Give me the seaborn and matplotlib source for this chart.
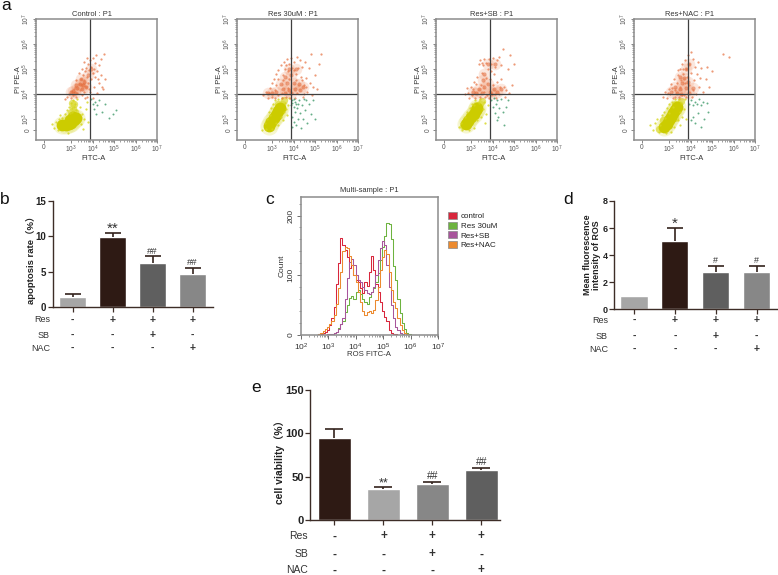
import numpy as np
import pandas as pd
import matplotlib
matplotlib.use("Agg")
import matplotlib.pyplot as plt
from matplotlib.patches import Patch
import seaborn as sns

W, H = 778, 575
sns.set_theme(style="white")
plt.rcParams["font.family"] = ["Liberation Sans", "Noto Sans CJK SC", "DejaVu Sans"]
plt.rcParams["mathtext.default"] = "regular"

# ---------- panel a : flow cytometry, (log FITC, log PE)
sample_titles = ["Control : P1", "Res 30uM : P1", "Res+SB : P1", "Res+NAC : P1"]
ul_pct = ["5.12", "7.58", "6.51", "6.84"]
ur_pct = ["0.84", "5.79", "3.91", "2.25"]
ll_pct = ["93.42", "82.69", "87.91", "89.38"]
lr_pct = ["0.62", "3.94", "1.66", "1.52"]

orange_core_control = [(3.3,4.25),(3.1,4.12),(3.4,4.42),(3.5,4.2),(3.2,4.05),(3.6,4.5),(3.0,4.08),(3.45,4.6),(3.7,4.3),(3.25,4.35),(3.55,4.35),(3.8,4.75),(3.95,5.0)]
orange_core_res = [(3.2,4.1),(3.5,4.2),(3.8,4.15),(4.05,4.2),(4.3,4.15),(3.4,4.4),(3.7,4.45),(4.0,4.45),(3.0,4.05),(4.25,4.4),(3.6,4.05),(3.9,4.05),(3.6,4.7),(3.9,4.75),(4.1,5.0),(3.8,5.0),(4.45,4.3),(2.8,4.05)]
orange_core_sb = [(3.1,4.1),(3.35,4.2),(3.6,4.3),(3.9,4.1),(4.05,4.2),(3.5,4.05),(3.8,4.4),(4.2,4.1),(3.25,4.05),(3.55,4.55),(3.95,4.0),(4.4,4.2),(3.8,5.2),(4.1,5.2),(3.6,4.8)]
orange_core_nac = [(3.1,4.1),(3.3,4.3),(3.5,4.2),(3.6,4.45),(3.8,4.25),(3.35,4.05),(3.7,4.65),(3.9,4.5),(3.55,4.0),(3.95,4.05),(4.1,4.25),(3.8,5.0),(3.95,5.2),(3.5,4.7)]

orange_control = [(2.8,3.9),(2.9,4.0),(3.0,3.85),(3.05,4.1),(3.1,3.95),(3.15,4.2),(3.2,4.3),(3.25,3.9),(3.3,4.05),(3.35,4.4),(3.4,4.15),(3.45,4.6),(3.5,3.95),(3.5,4.35),(3.55,4.75),(3.6,4.1),(3.6,4.55),(3.65,4.9),(3.7,4.3),(3.7,5.05),(3.75,3.9),(3.75,4.7),(3.8,4.45),(3.8,5.2),(3.85,4.95),(3.9,4.1),(3.9,5.35),(3.95,4.6),(3.95,5.1),(4.0,3.85),(4.0,4.85),(4.0,5.45),(4.05,4.3),(4.1,4.7),(4.1,5.25),(4.15,5.55),(4.2,4.05),(4.2,4.9),(4.3,4.45),(4.3,5.15),(4.4,4.75),(4.4,5.4),(4.5,4.2),(4.55,5.6),(4.6,4.6),(2.7,3.8),(3.6,5.3),(3.5,5.0),(3.35,4.85),(3.85,4.2),(3.25,4.55),(3.75,5.45),(4.25,4.6),(4.45,4.3),(4.05,5.0),(3.65,3.85)]
orange_res = [(2.6,3.95),(2.7,4.1),(2.8,3.85),(2.9,4.25),(3.0,3.9),(3.0,4.45),(3.1,4.6),(3.15,3.85),(3.2,4.8),(3.3,4.95),(3.3,3.95),(3.4,5.15),(3.45,3.85),(3.5,4.75),(3.55,5.3),(3.6,5.0),(3.65,3.9),(3.7,5.4),(3.75,4.9),(3.8,5.2),(3.85,3.85),(3.9,5.45),(3.95,5.05),(4.0,5.3),(4.05,3.85),(4.1,4.8),(4.15,5.5),(4.2,5.05),(4.3,5.35),(4.35,4.7),(4.4,5.1),(4.45,3.9),(4.5,4.35),(4.55,5.3),(4.6,4.65),(4.65,4.1),(4.7,5.05),(4.75,4.45),(4.8,5.6),(4.85,3.95),(4.9,4.3),(5.0,4.75),(5.1,4.2),(5.3,5.6),(5.2,5.2),(3.2,4.35),(3.5,4.55),(3.8,4.6),(4.1,4.55),(4.4,4.55),(4.6,4.3),(2.85,4.05),(3.3,4.6),(4.0,4.95),(3.65,5.15),(3.15,4.15),(3.45,4.05),(3.75,4.25),(4.15,4.05),(4.5,4.0)]
orange_sb = [(2.7,4.0),(2.8,4.25),(2.9,3.85),(3.0,4.3),(3.05,3.95),(3.15,4.5),(3.2,3.85),(3.3,4.7),(3.35,5.2),(3.4,5.35),(3.4,3.9),(3.5,4.85),(3.55,5.15),(3.6,5.4),(3.65,3.9),(3.7,4.65),(3.7,5.25),(3.8,5.0),(3.85,5.4),(3.85,3.85),(3.9,4.6),(3.95,5.2),(4.0,5.45),(4.05,4.8),(4.1,5.1),(4.15,3.85),(4.2,4.5),(4.2,5.35),(4.3,5.5),(4.3,4.0),(4.4,4.6),(4.4,5.15),(4.5,5.8),(4.55,4.3),(4.6,3.9),(4.65,4.15),(4.7,5.0),(4.8,5.55),(4.9,4.35),(5.0,5.2),(3.1,4.2),(3.25,4.4),(3.45,4.35),(3.6,4.1),(3.75,3.95),(4.0,4.35),(4.1,4.0),(4.35,4.3),(3.5,5.25),(3.95,4.9),(2.85,4.05),(4.75,4.05)]
orange_nac = [(2.7,3.9),(2.8,4.1),(2.9,3.85),(3.0,4.2),(3.05,4.0),(3.1,4.4),(3.2,3.85),(3.25,4.6),(3.3,4.15),(3.4,4.75),(3.45,3.9),(3.5,5.0),(3.55,4.55),(3.6,5.2),(3.65,4.8),(3.7,3.95),(3.75,5.35),(3.8,5.0),(3.85,4.7),(3.9,5.55),(3.95,5.2),(4.0,5.7),(4.0,4.85),(4.05,3.9),(4.1,5.4),(4.15,4.55),(4.2,5.1),(4.25,4.0),(4.3,4.8),(4.35,5.3),(4.4,4.3),(4.45,4.65),(4.5,5.05),(4.6,4.1),(4.7,4.6),(4.75,5.1),(4.85,4.3),(5.0,4.9),(5.5,5.6),(5.8,5.5),(3.15,4.25),(3.35,4.45),(3.5,4.3),(3.75,4.45),(3.95,4.35),(4.1,4.15),(3.6,3.95),(3.8,3.88),(3.4,4.95),(3.65,5.0),(3.3,3.9),(2.95,4.05)]

yellow_core_control = [(2.6,2.78),(2.75,2.76),(2.9,2.8),(3.02,2.86),(3.13,2.95),(3.22,3.06),(2.95,2.98),(3.08,3.1)]
yellow_core_res = [(2.85,2.72),(2.97,2.88),(3.08,3.03),(3.18,3.18),(3.28,3.33),(3.36,3.45)]
yellow_core_sb = [(2.75,2.8),(2.88,2.93),(3.0,3.08),(3.12,3.22),(3.23,3.36),(3.3,3.46)]
yellow_core_nac = [(2.75,2.68),(2.9,2.8),(3.0,2.95),(3.1,3.1),(3.2,3.25),(3.3,3.38),(3.38,3.48)]

yellow_stem_control = [(3.0,3.3),(3.08,3.45),(3.14,3.6),(3.2,3.3),(3.05,3.65)]
yellow_stem_res = [(3.45,3.6),(3.55,3.75),(3.3,3.6),(2.8,2.9)]
yellow_stem_sb = [(3.4,3.6),(3.5,3.72),(3.25,3.55),(2.62,2.72)]
yellow_stem_nac = [(3.45,3.6),(3.55,3.72),(3.3,3.6),(2.55,2.62),(2.7,2.95),(3.3,3.05)]

yellow_control = [(2.1,2.8),(2.2,2.65),(2.3,2.9),(2.4,2.55),(2.45,3.0),(2.6,3.05),(2.7,3.2),(2.8,3.35),(2.85,2.45),(2.9,3.5),(3.0,3.65),(3.05,3.45),(3.1,3.75),(3.2,3.6),(3.25,3.35),(3.3,3.8),(3.4,3.5),(3.45,2.8),(3.5,3.2),(3.55,2.6),(3.6,3.0),(3.7,3.4),(3.8,2.9),(3.75,3.7),(3.15,3.5),(3.05,3.3),(2.95,3.25),(2.5,3.15)]
yellow_res = [(2.55,2.55),(2.65,2.85),(2.7,2.6),(2.75,3.0),(2.85,3.3),(2.95,3.45),(3.0,2.6),(3.05,3.6),(3.15,3.75),(3.2,2.85),(3.3,3.8),(3.4,3.1),(3.45,3.85),(3.5,2.95),(3.55,3.3),(3.6,3.65),(3.7,3.15),(3.75,3.55),(3.8,3.85),(2.9,3.15),(3.3,2.75),(3.65,3.4)]
yellow_sb = [(2.45,2.7),(2.55,2.85),(2.6,2.55),(2.7,3.1),(2.8,3.3),(2.9,2.55),(2.95,3.45),(3.05,3.6),(3.15,2.65),(3.2,3.75),(3.3,2.95),(3.4,3.8),(3.45,3.1),(3.55,3.4),(3.6,3.7),(3.65,2.85),(3.7,3.2),(3.8,3.55),(3.15,3.55),(3.35,3.65)]
yellow_nac = [(2.1,2.75),(2.25,2.55),(2.35,2.85),(2.45,3.0),(2.55,2.5),(2.65,3.15),(2.75,3.3),(2.85,2.45),(2.9,3.45),(3.0,3.6),(3.1,2.5),(3.15,3.7),(3.25,2.7),(3.3,3.8),(3.4,2.95),(3.45,3.8),(3.5,2.75),(3.55,3.65),(3.6,3.1),(3.7,3.4),(3.75,3.8),(3.8,3.0),(2.6,2.75),(2.8,3.05),(3.0,3.25),(3.2,3.5),(3.5,3.3)]

green_control = [(3.95,3.8),(4.0,3.6),(4.05,3.4),(4.1,3.7),(4.15,3.2),(4.2,3.55),(4.3,3.75),(4.45,3.3),(4.6,3.6),(4.75,3.05),(4.95,3.2),(5.1,3.35)]
green_res = [(3.9,3.55),(3.95,3.65),(4.0,3.5),(4.05,3.7),(4.0,3.8),(4.1,3.6),(3.92,3.75),(3.95,3.1),(4.0,2.9),(4.05,3.3),(4.1,2.75),(4.15,3.45),(4.2,3.0),(4.25,3.75),(4.3,3.25),(4.35,2.65),(4.4,3.55),(4.45,3.0),(4.5,3.8),(4.55,3.35),(4.65,2.85),(4.7,3.6),(4.8,3.2),(4.9,3.75),(5.0,3.0),(4.2,3.6),(4.6,3.75),(3.95,2.7)]
green_sb = [(3.95,3.75),(4.0,3.5),(4.05,3.85),(4.1,3.25),(4.15,3.6),(4.2,3.75),(4.25,3.1),(4.3,3.45),(4.4,3.8),(4.5,3.3),(4.65,3.5),(4.7,3.75),(4.55,2.75),(4.2,2.95)]
green_nac = [(3.95,3.6),(4.0,3.75),(4.1,3.55),(4.2,3.7),(4.3,3.6),(4.4,3.8),(4.5,3.55),(4.6,3.7),(4.75,3.65),(4.1,3.1),(4.2,2.85),(4.35,3.25),(4.5,2.7),(4.65,3.0),(4.8,3.3),(4.0,2.95)]

orange_core = [orange_core_control, orange_core_res, orange_core_sb, orange_core_nac]
orange_pts = [orange_control, orange_res, orange_sb, orange_nac]
yellow_core = [yellow_core_control, yellow_core_res, yellow_core_sb, yellow_core_nac]
yellow_stem = [yellow_stem_control, yellow_stem_res, yellow_stem_sb, yellow_stem_nac]
yellow_pts = [yellow_control, yellow_res, yellow_sb, yellow_nac]
green_pts = [green_control, green_res, green_sb, green_nac]

# ---------- bars
conditions = ["Ctrl", "Res", "Res+SB", "Res+NAC"]
apoptosis = [1.45, 9.9, 6.25, 4.7]
apoptosis_err = [0.45, 0.6, 0.95, 0.9]
apoptosis_marks = ["", "**", "##", "##"]
ros = [1.0, 5.05, 2.75, 2.72]
ros_err = [0.0, 0.95, 0.45, 0.48]
ros_marks = ["", "*", "#", "#"]
viability = [95, 36, 42, 57.5]
viability_err = [10, 2.7, 2, 2.5]
viability_marks = ["", "**", "##", "##"]
res_row = ["-", "+", "+", "+"]
sb_row = ["-", "-", "+", "-"]
nac_row = ["-", "-", "-", "+"]

# ---------- panel c histogram
ros_channel = [2.6,2.68,2.76,2.84,2.92,3.0,3.08,3.16,3.24,3.32,3.4,3.48,3.56,3.64,3.72,3.8,3.88,3.96,4.04,4.12,4.2,4.28,4.36,4.44,4.52,4.6,4.68,4.76,4.84,4.92,5.0,5.08,5.16,5.24,5.32,5.4,5.48,5.56,5.64,5.72,5.8,5.88,5.96,6.04,6.12,6.2]
count_control = [0,1,2,3,5,9,16,28,47,85,120,162,150,142,130,112,118,100,92,88,78,70,88,82,105,132,108,85,72,55,40,30,24,8,3,2,1,0,0,0,0,0,0,0,0,0]
count_res = [0,0,0,0,0,0,1,2,3,5,12,18,24,38,50,62,66,60,72,76,68,60,56,52,64,72,78,88,104,125,148,165,188,185,160,115,92,60,36,20,10,4,1,0,0,0]
count_sb = [0,0,0,0,0,1,1,2,3,5,10,18,28,60,95,123,128,118,100,92,88,80,76,70,68,72,80,100,125,145,158,150,118,80,50,28,14,8,3,1,0,0,0,0,0,0]
count_nac = [0,1,3,6,10,14,18,24,34,52,78,105,140,148,145,132,118,100,88,72,55,40,34,38,40,36,42,58,80,108,130,142,135,105,75,55,46,28,16,8,3,1,0,0,0,0]
hist_labels = ["control", "Res 30uM", "Res+SB", "Res+NAC"]
hist_counts = [count_control, count_res, count_sb, count_nac]
hist_colors = ["#d8263c", "#6db33f", "#a8559b", "#ec8a2e"]

fig = plt.figure(figsize=(W / 100, H / 100), dpi=100)
bg = fig.add_axes([0, 0, 1, 1])
bg.set_xlim(0, W); bg.set_ylim(H, 0); bg.axis("off")


def px_axes(l, t, r, b):
    return fig.add_axes([l / W, 1 - b / H, (r - l) / W, (b - t) / H])


def px_text(x, y, s, **kw):
    kw.setdefault("ha", "center"); kw.setdefault("va", "center")
    bg.text(x, y, s, **kw)


GRAY = "#8c8c8c"
DK = "#3f3f3f"
TXT = "#555555"


def log_minor(first, last):
    return [k + np.log10(m) for k in range(first, last) for m in range(2, 10)]


def scatter_layer(ax, pts, color, size, alpha):
    d = pd.DataFrame(pts, columns=["fitc", "pe"])
    sns.scatterplot(data=d, x="fitc", y="pe", color=color, s=size, alpha=alpha, linewidth=0, ax=ax, legend=False)


lefts = [36, 237, 436, 634]
for i, L in enumerate(lefts):
    ax = px_axes(L, 19, L + 121, 140)
    scatter_layer(ax, yellow_core[i], "#e6e67a", 170, 0.35)
    scatter_layer(ax, yellow_stem[i], "#dcdc3c", 28, 0.75)
    scatter_layer(ax, yellow_core[i], "#cccc00", 72, 1)
    scatter_layer(ax, yellow_pts[i], "#d6d61c", 2.6, 0.8)
    scatter_layer(ax, orange_core[i], "#ee8a5c", 70, 0.2)
    scatter_layer(ax, orange_core[i], "#df5a25", 9, 0.5)
    scatter_layer(ax, orange_pts[i], "#e8784a", 2.6, 0.75)
    scatter_layer(ax, green_pts[i], "#3f9a6a", 2, 0.8)
    ax.set_xlim(1.37, 7); ax.set_ylim(2.16, 7)
    ax.axvline(3.9, color=DK, lw=0.9); ax.axhline(4, color=DK, lw=0.9)
    ax.set_xticks([1.74, 3, 4, 5, 6, 7], ["0", "$10^3$", "$10^4$", "$10^5$", "$10^6$", "$10^7$"], fontsize=4.8, color=TXT)
    ax.set_yticks([2.56, 3, 4, 5, 6, 7], ["0", "$10^3$", "$10^4$", "$10^5$", "$10^6$", "$10^7$"], fontsize=4.8, color=TXT, rotation=90, va="center")
    ax.set_xticks(log_minor(3, 7), minor=True); ax.set_yticks(log_minor(3, 7), minor=True)
    ax.tick_params(which="major", length=2, width=0.5, color=TXT, pad=0.8, left=True, bottom=True)
    ax.tick_params(which="minor", length=1.1, width=0.4, color=TXT, left=True, bottom=True)
    ax.set_xlabel(""); ax.set_ylabel("")
    for sp in ax.spines.values():
        sp.set_color(GRAY); sp.set_linewidth(1.1)
    px_text(L + 56, 14, sample_titles[i], fontsize=5.4, color="#333333")
    px_text(L + 58, 158, "FITC-A", fontsize=5.4, color="#333333")
    px_text(L - 17, 80, "PI PE-A", fontsize=5.4, color="#333333", rotation=90)
    px_text(L + 2, 25, f"Q1-UL({ul_pct[i]}%)", fontsize=5.3, color="#a2559f", ha="left")
    px_text(L + 119, 25, f"Q1-UR({ur_pct[i]}%)", fontsize=5.3, color="#4a64a8", ha="right")
    px_text(L + 2, 134, f"Q1-LL({ll_pct[i]}%)", fontsize=5.3, color="#bcbc1e", ha="left")
    px_text(L + 119, 134, f"Q1-LR({lr_pct[i]}%)", fontsize=5.3, color="#2f8a55", ha="right")


def bar_panel(box, values, errs, marks, colors, ymax, yticks, xlim, ylabel, ylab_xy, row_offsets, row_x,
              tick_fs, row_fs, cap, lab_fs, star_fs):
    l, t, r, b = box
    ax = px_axes(l, t, r, b)
    sns.barplot(x=conditions, y=values, hue=conditions, palette=colors, saturation=1, width=0.667,
                legend=False, errorbar=None, ax=ax)
    keep = [j for j in range(4) if errs[j] > 0]
    _, caps, _ = ax.errorbar(keep, [values[j] for j in keep], yerr=[[0] * len(keep), [errs[j] for j in keep]],
                             fmt="none", ecolor="#33231d", elinewidth=1.2, capsize=cap, capthick=1.2, zorder=3)
    caps[0].set_visible(False)
    ax.set_xlim(*xlim); ax.set_ylim(0, ymax)
    ax.set_yticks(yticks, [str(v) for v in yticks], fontsize=tick_fs, fontweight="bold", color="#222222")
    ax.set_xticks(range(4), [""] * 4)
    ax.tick_params(axis="both", length=3.5, width=0.9, color="#3d2d27", pad=1, left=True, bottom=True)
    ax.set_xlabel(""); ax.set_ylabel("")
    for s in ["top", "right"]:
        ax.spines[s].set_visible(False)
    for s in ["left", "bottom"]:
        ax.spines[s].set_color("#3d2d27"); ax.spines[s].set_linewidth(1)
    px_text(*ylab_xy, ylabel, fontsize=lab_fs, fontweight="bold", rotation=90, color="#222222", linespacing=1.1)
    for j, (v, e, m) in enumerate(zip(values, errs, marks)):
        if "*" in m:
            ax.annotate(m, xy=(j, v + e), xytext=(0, 0.2), textcoords="offset points",
                        ha="center", va="baseline", fontsize=star_fs, color="#333333")
        elif m:
            ax.annotate(m, xy=(j, v + e), xytext=(0, 0.5), textcoords="offset points",
                        ha="center", va="bottom", fontsize=lab_fs, color="#333333")
    rows = [("Res", res_row), ("SB", sb_row), ("NAC", nac_row)]
    for (name, row), off in zip(rows, row_offsets):
        px_text(row_x, b + off, name, fontsize=row_fs, ha="right",
                family=["Liberation Sans Narrow", "Liberation Sans"], color="#333333")
        for j, sym in enumerate(row):
            ax.annotate(sym, xy=(j, 0), xycoords=ax.get_xaxis_transform(), xytext=(0, -off * 0.72),
                        textcoords="offset points", ha="center", va="center", fontsize=row_fs + 1,
                        fontweight="bold", color="#333333")
    return ax


bar_panel((52.7, 201, 213, 307.3), apoptosis, apoptosis_err, apoptosis_marks,
          ["#a6a6a6", "#2e1a14", "#5f5f5f", "#878787"], 15, [0, 5, 10, 15], (-0.5, 3.51),
          "apoptosis rate（%）", (31, 258), (12.5, 28, 41), 50, 7, 6.5, 6, 6.8, 11)
bar_panel((614, 201, 777, 309.3), ros, ros_err, ros_marks,
          ["#a6a6a6", "#2e1a14", "#5f5f5f", "#878787"], 8, [0, 2, 4, 6, 8], (-0.49, 3.5),
          "Mean fluorescence\nintensity of ROS", (592, 255), (11, 27, 40), 608, 6.5, 6.5, 5.5, 6.4, 11)
bar_panel((310, 390, 500, 520.3), viability, viability_err, viability_marks,
          ["#2e1a14", "#a6a6a6", "#878787", "#5f5f5f"], 150, [0, 50, 100, 150], (-0.5, 3.38),
          "cell viability（%）", (280, 460), (16, 34, 50), 308, 8, 7.5, 6.5, 7.4, 9)

# ---------- panel c
axc = px_axes(300.7, 197, 438, 335)
for lab, cnt, col in zip(hist_labels, hist_counts, hist_colors):
    d = pd.DataFrame({"channel": ros_channel, "count": cnt})
    sns.lineplot(data=d, x="channel", y="count", color=col, lw=0.75, drawstyle="steps-mid", ax=axc, errorbar=None)
axc.set_xlim(2, 7); axc.set_ylim(0, 231)
axc.set_xticks([2, 3, 4, 5, 6, 7], ["$10^2$", "$10^3$", "$10^4$", "$10^5$", "$10^6$", "$10^7$"], fontsize=6, color="#333333")
axc.set_yticks([0, 100, 200], ["0", "100", "200"], fontsize=6, rotation=90, va="center", color="#333333")
axc.set_yticks(range(0, 230, 20), minor=True)
axc.set_xticks(log_minor(2, 7), minor=True)
axc.tick_params(which="major", length=3, width=0.6, color="#555555", pad=1.5, left=True, bottom=True)
axc.tick_params(which="minor", length=1.5, width=0.4, color="#555555", left=True, bottom=True)
axc.set_xlabel(""); axc.set_ylabel("")
for sp in axc.spines.values():
    sp.set_color(GRAY); sp.set_linewidth(1.1)
px_text(369, 190.5, "Multi-sample : P1", fontsize=5.4, color="#333333")
px_text(369, 354.5, "ROS FITC-A", fontsize=5.6, color="#333333")
px_text(282, 266, "Count", fontsize=6, color="#333333", rotation=90)
handles = [Patch(facecolor=c, edgecolor="#888888", lw=0.5, label=n) for c, n in zip(hist_colors, hist_labels)]
fig.legend(handles=handles, loc="upper left", bbox_to_anchor=(442 / W, 1 - 206.5 / H), frameon=False, fontsize=5.8,
           handlelength=1.15, handleheight=0.95, handletextpad=0.45, labelspacing=0.17, borderpad=0.2,
           labelcolor="#222222")

for s, x, y in [("a", 6, 6), ("b", 5, 199), ("c", 270, 200), ("d", 568, 199), ("e", 256, 388)]:
    px_text(x, y, s, fontsize=12.5, color="#111111")

fig.savefig("out.png", dpi=100)
